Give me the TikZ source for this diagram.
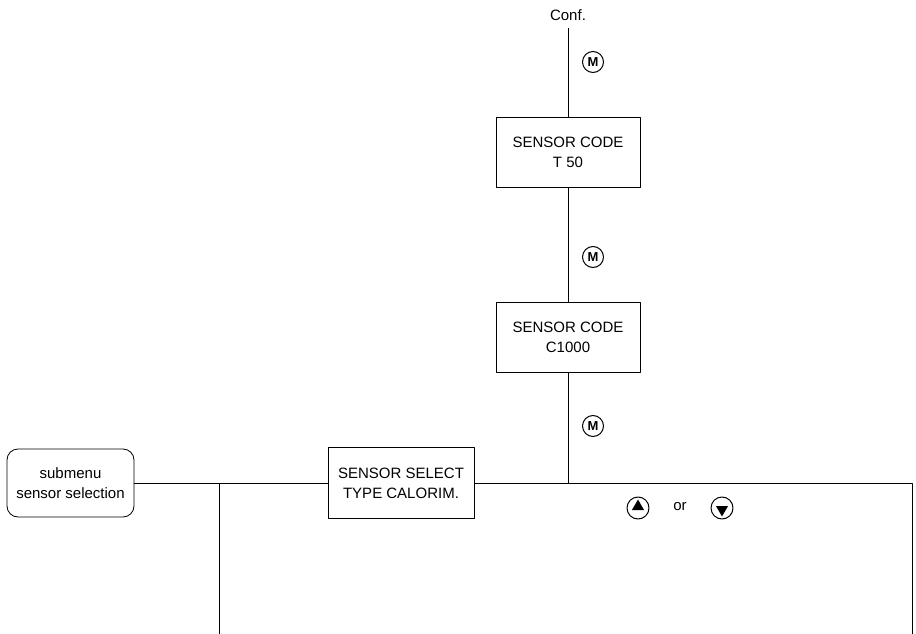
\documentclass[tikz,border=0pt]{standalone}
\usepackage{fontspec}
\setmainfont{Liberation Sans}
\usetikzlibrary{shapes.geometric}
\begin{document}
\begin{tikzpicture}[x=1pt, y=-1pt, font=\fontsize{15}{20}\selectfont, line width=0.9pt, line join=round]
	\tikzset{
		menubox/.style={draw, line width=0.8pt, align=center, minimum width=144pt, minimum height=70pt, inner sep=2pt},
		subbox/.style={draw, line width=0.8pt, rounded corners=11pt, align=center, minimum width=127pt, minimum height=68pt},
		keyM/.style={draw, circle, line width=1pt, minimum size=21pt, inner sep=0pt, font=\fontsize{13}{13}\selectfont\bfseries},
		keyring/.style={draw, circle, line width=1pt, minimum size=22pt, inner sep=0pt},
		keytri/.style={regular polygon, regular polygon sides=3, fill, minimum size=14pt, inner sep=0pt}
	}
	\useasboundingbox (0,0) rectangle (916,634);
	% top entry
	\node (conf) at (568,15) {Conf.};
	\coordinate (top) at (568,28);
	\node[menubox] (t50) at (568,152) {SENSOR CODE\\T 50};
	\node[menubox] (c1000) at (568,337) {SENSOR CODE\\C1000};
	\node[menubox, minimum width=146pt, minimum height=71pt] (calor) at (401,483) {SENSOR SELECT\\TYPE CALORIM.};
	\node[subbox] (sub) at (70.5,483) {submenu\\sensor selection};
	% keys
	\node[keyM] (m1) at (593,62) {M};
	\node[keyM] (m2) at (593,257) {M};
	\node[keyM] (m3) at (593,426) {M};
	\node[keyring] (up) at (638,508) {};
	\node[keytri] at ([yshift=1.5pt]up.center) {};
	\node (or) at (680,507) {or};
	\node[keyring] (down) at (722,508) {};
	\node[keytri, rotate=180] at ([yshift=-1.5pt]down.center) {};
	% connectors
	\coordinate (ur) at (912,483);
	\coordinate (br) at (912,634);
	\coordinate (bl) at (219,634);
	\draw (top) -- (t50.north);
	\draw (t50.south) -- (c1000.north);
	\draw (c1000.south) -- (c1000.south |- ur);
	\draw (sub.east) -- (calor.west);
	\draw (calor.east) -- (ur) -- (br);
	\draw (bl |- sub.east) -- (bl);
\end{tikzpicture}
\end{document}
